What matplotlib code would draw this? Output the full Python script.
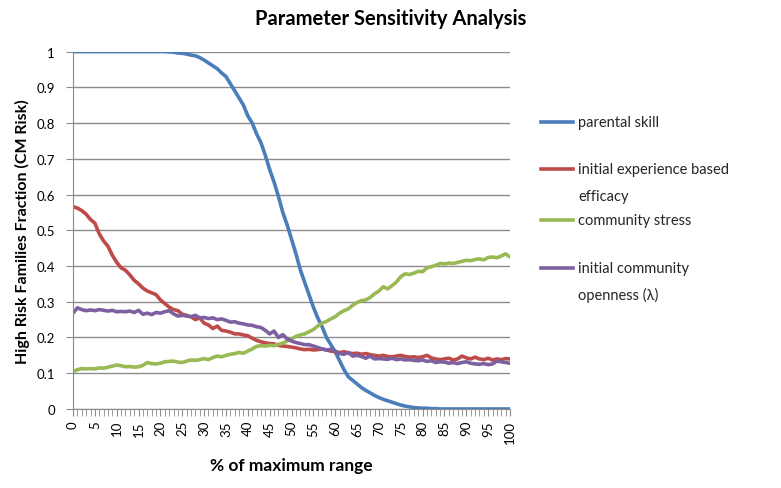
import numpy as np
import matplotlib.pyplot as plt
from matplotlib.lines import Line2D
from matplotlib.ticker import MultipleLocator

plt.rcParams['font.family'] = ['Lato', 'DejaVu Sans']

# % of maximum range, 0..100 in steps of 1
pct = list(range(0, 101))

parental_skill = [1.0] * 22 + [
    0.999, 0.998, 0.996, 0.995, 0.993, 0.99, 0.988, 0.983, 0.976, 0.968,
    0.96, 0.952, 0.94, 0.93, 0.91, 0.89, 0.87, 0.85, 0.82, 0.80,
    0.77, 0.745, 0.71, 0.67, 0.635, 0.595, 0.55, 0.515, 0.475, 0.435,
    0.39, 0.355, 0.32, 0.285, 0.255, 0.23, 0.20, 0.18, 0.16, 0.135,
    0.11, 0.09, 0.08, 0.07, 0.06, 0.052, 0.045, 0.038, 0.032, 0.027,
    0.023, 0.019, 0.015, 0.011, 0.008, 0.006, 0.004, 0.003, 0.002, 0.002,
    0.001, 0.001] + [0.0] * 17

experience_efficacy = [
    0.566, 0.562, 0.555, 0.545, 0.53, 0.52, 0.49, 0.47, 0.455, 0.43,
    0.41, 0.395, 0.388, 0.375, 0.36, 0.35, 0.338, 0.33, 0.325, 0.32,
    0.305, 0.295, 0.285, 0.278, 0.275, 0.265, 0.262, 0.258, 0.25, 0.255,
    0.24, 0.235, 0.225, 0.232, 0.22, 0.218, 0.215, 0.21, 0.21, 0.207,
    0.205, 0.198, 0.192, 0.188, 0.185, 0.183, 0.182, 0.178, 0.176, 0.175,
    0.173, 0.171, 0.168, 0.166, 0.167, 0.165, 0.166, 0.168, 0.165, 0.162,
    0.16, 0.158, 0.16, 0.157, 0.155, 0.156, 0.153, 0.155, 0.152, 0.15,
    0.148, 0.15, 0.147, 0.146, 0.148, 0.15, 0.147, 0.145, 0.146, 0.144,
    0.146, 0.15, 0.143, 0.14, 0.138, 0.14, 0.142, 0.137, 0.14, 0.148,
    0.143, 0.14, 0.145, 0.14, 0.138, 0.142, 0.137, 0.14, 0.138, 0.141,
    0.14]

community_stress = [
    0.104, 0.11, 0.113, 0.112, 0.113, 0.112, 0.115, 0.114, 0.117, 0.12,
    0.123, 0.121, 0.118, 0.119, 0.117, 0.118, 0.122, 0.13, 0.127, 0.126,
    0.128, 0.132, 0.133, 0.134, 0.131, 0.13, 0.134, 0.137, 0.136, 0.138,
    0.141, 0.138, 0.144, 0.148, 0.146, 0.15, 0.153, 0.155, 0.158, 0.156,
    0.162, 0.168, 0.175, 0.177, 0.176, 0.178, 0.177, 0.181, 0.184, 0.19,
    0.196, 0.203, 0.207, 0.21, 0.216, 0.222, 0.232, 0.24, 0.245, 0.252,
    0.258, 0.268, 0.275, 0.28, 0.29, 0.298, 0.303, 0.305, 0.312, 0.322,
    0.33, 0.342, 0.336, 0.345, 0.355, 0.37, 0.378, 0.376, 0.38, 0.385,
    0.384, 0.395, 0.398, 0.402, 0.407, 0.406, 0.408, 0.407, 0.41, 0.413,
    0.416, 0.415, 0.418, 0.42, 0.417, 0.424, 0.425, 0.423, 0.428, 0.434,
    0.425]

community_openness = [
    0.268, 0.283, 0.278, 0.275, 0.277, 0.275, 0.278, 0.276, 0.274, 0.276,
    0.272, 0.273, 0.272, 0.274, 0.27, 0.276, 0.265, 0.268, 0.264, 0.27,
    0.268, 0.272, 0.275, 0.266, 0.26, 0.262, 0.26, 0.258, 0.262, 0.255,
    0.256, 0.253, 0.255, 0.25, 0.252, 0.248, 0.243, 0.244, 0.24, 0.238,
    0.235, 0.234, 0.23, 0.228, 0.22, 0.21, 0.218, 0.2, 0.208, 0.196,
    0.19, 0.186, 0.183, 0.18, 0.18, 0.176, 0.172, 0.168, 0.165, 0.167,
    0.162, 0.155, 0.153, 0.158, 0.148, 0.15, 0.147, 0.142, 0.148, 0.14,
    0.141, 0.14, 0.139, 0.142, 0.138, 0.14, 0.137, 0.138, 0.136, 0.135,
    0.137, 0.133, 0.135, 0.13, 0.132, 0.131, 0.128, 0.13, 0.127, 0.13,
    0.132, 0.128, 0.126, 0.125, 0.127, 0.124, 0.126, 0.134, 0.132, 0.13,
    0.128]

yticks = [0, 0.1, 0.2, 0.3, 0.4, 0.5, 0.6, 0.7, 0.8, 0.9, 1.0]
ytick_labels = ['0', '0.1', '0.2', '0.3', '0.4', '0.5', '0.6', '0.7', '0.8', '0.9', '1']

series = [
    (parental_skill, '#4A7EBB', ['parental skill']),
    (experience_efficacy, '#BE4B48', ['initial experience based', 'efficacy']),
    (community_stress, '#98B954', ['community stress']),
    (community_openness, '#7D60A0', ['initial community', 'openness (\u03bb)']),
]

fig = plt.figure(figsize=(7.81, 4.89), dpi=100)
ax = fig.add_axes([0.0935, 0.1616, 0.5595, 0.731])

for vals, col, lab in series:
    ax.plot(pct, vals, color=col, lw=2.6, solid_capstyle='round')

ax.set_xlim(0, 100)
ax.set_ylim(0, 1)
ax.set_yticks(yticks)
ax.set_yticklabels(ytick_labels)
ax.xaxis.set_major_locator(MultipleLocator(5))
ax.xaxis.set_minor_locator(MultipleLocator(1))
ax.grid(axis='y', color='#8c8c8c', lw=1)
ax.set_axisbelow(True)
for s in ['top', 'right']:
    ax.spines[s].set_visible(False)
for s in ['left', 'bottom']:
    ax.spines[s].set_color('#8c8c8c')
ax.tick_params(axis='x', which='both', length=5, color='#8c8c8c',
               labelrotation=90, labelsize=9.5, pad=3)
ax.tick_params(axis='y', length=5, color='#8c8c8c', labelsize=9.5, pad=8)

ax.set_xlabel('% of maximum range', fontsize=12.5, fontweight='bold', labelpad=10)
ax.set_ylabel('High Risk Families Fraction (CM Risk)', fontsize=11.5,
              fontweight='bold', labelpad=5)
fig.text(0.5, 0.962, 'Parameter Sensitivity Analysis', ha='center', va='center',
         fontsize=14.5, fontweight='bold')

# legend drawn by hand to keep Excel-like spacing
leg_y = [0.748, 0.652, 0.548, 0.450]
for (vals, col, lab), y in zip(series, leg_y):
    fig.add_artist(Line2D([0.693, 0.734], [y, y], color=col, lw=2.6,
                          transform=fig.transFigure))
    for k, line in enumerate(lab):
        fig.text(0.740, y - k * 0.055, line, va='center', ha='left',
                 fontsize=10.5, color='#262626')

fig.savefig('out.png', dpi=100)
